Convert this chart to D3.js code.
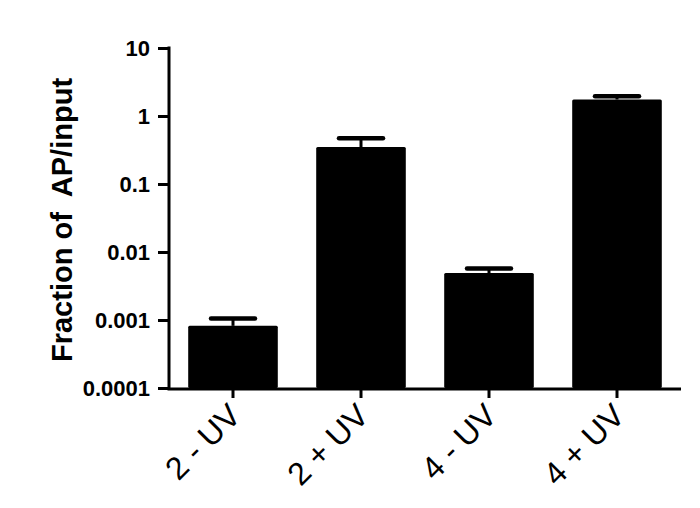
<!DOCTYPE html>
<html>
<head>
<meta charset="utf-8">
<script src="https://cdn.jsdelivr.net/npm/d3@7"></script>
<style>
body{margin:0;background:#fff;}
svg{display:block;}
</style>
</head>
<body>
<svg id="chart" width="700" height="508"></svg>
<script>
const categories = ["2 - UV", "2 + UV", "4 - UV", "4 + UV"];
const values = [0.00082, 0.35, 0.0049, 1.75];
const errUpper = [0.00105, 0.47, 0.0057, 1.96];
const yTicks = [0.0001, 0.001, 0.01, 0.1, 1, 10];
const yTickLabels = ["0.0001", "0.001", "0.01", "0.1", "1", "10"];
const yLabel = "Fraction of  AP/input";

const svg = d3.select("#chart");
const font = "'Liberation Sans', Arial, Helvetica, sans-serif";

const x = d3.scaleBand().domain(categories).range([169, 681]).paddingInner(0.3).paddingOuter(0.15);
const y = d3.scaleLog().domain([0.0001, 10]).range([388, 48]);

// bars
svg.append("g").selectAll("rect").data(categories).join("rect")
  .attr("x", d => x(d))
  .attr("y", (d, i) => y(values[i]))
  .attr("width", x.bandwidth())
  .attr("height", (d, i) => y(0.0001) - y(values[i]))
  .attr("rx", 1.5)
  .attr("fill", "#000");

// error bars
const eg = svg.append("g");
categories.forEach((c, i) => {
  const cx = x(c) + x.bandwidth() / 2;
  eg.append("line").attr("x1", cx).attr("x2", cx)
    .attr("y1", y(values[i])).attr("y2", y(errUpper[i]))
    .attr("stroke", "#000").attr("stroke-width", 3);
  eg.append("line").attr("x1", cx - 22).attr("x2", cx + 22)
    .attr("y1", y(errUpper[i])).attr("y2", y(errUpper[i]))
    .attr("stroke", "#000").attr("stroke-width", 4.5).attr("stroke-linecap", "round");
});

// y axis
const yAxis = d3.axisLeft(y).tickValues(yTicks).tickFormat((d, i) => yTickLabels[i]).tickSizeOuter(0).tickSize(11).tickPadding(8);
const yg = svg.append("g").attr("transform", "translate(169,0)").call(yAxis);
yg.select(".domain").attr("stroke", "#000").attr("stroke-width", 3).attr("d", `M0,${y(10)-1.5}V${y(0.0001)+1.5}`);
yg.selectAll(".tick line").attr("stroke", "#000").attr("stroke-width", 3);
yg.selectAll(".tick text").attr("font-family", font).attr("font-weight", "bold").attr("font-size", 22).attr("fill", "#000");

// x axis
const xAxis = d3.axisBottom(x).tickSizeOuter(0).tickSize(9).tickPadding(6);
const xg = svg.append("g").attr("transform", "translate(0,389)").call(xAxis);
xg.select(".domain").attr("stroke", "#000").attr("stroke-width", 3).attr("d", "M167.5,0H681");
xg.selectAll(".tick line").attr("stroke", "#000").attr("stroke-width", 3);
xg.selectAll(".tick text")
  .attr("font-family", font).attr("font-size", 32).attr("fill", "#000")
  .attr("text-anchor", "end").attr("dy", "0.35em")
  .attr("transform", "translate(-9,10) rotate(-45)");

// y label
svg.append("text")
  .attr("transform", "translate(72,220) rotate(-90)")
  .attr("text-anchor", "middle")
  .attr("font-family", font).attr("font-weight", "bold").attr("font-size", 29)
  .attr("fill", "#000")
  .attr("xml:space", "preserve")
  .style("white-space", "pre")
  .text(yLabel);
</script>
</body>
</html>
